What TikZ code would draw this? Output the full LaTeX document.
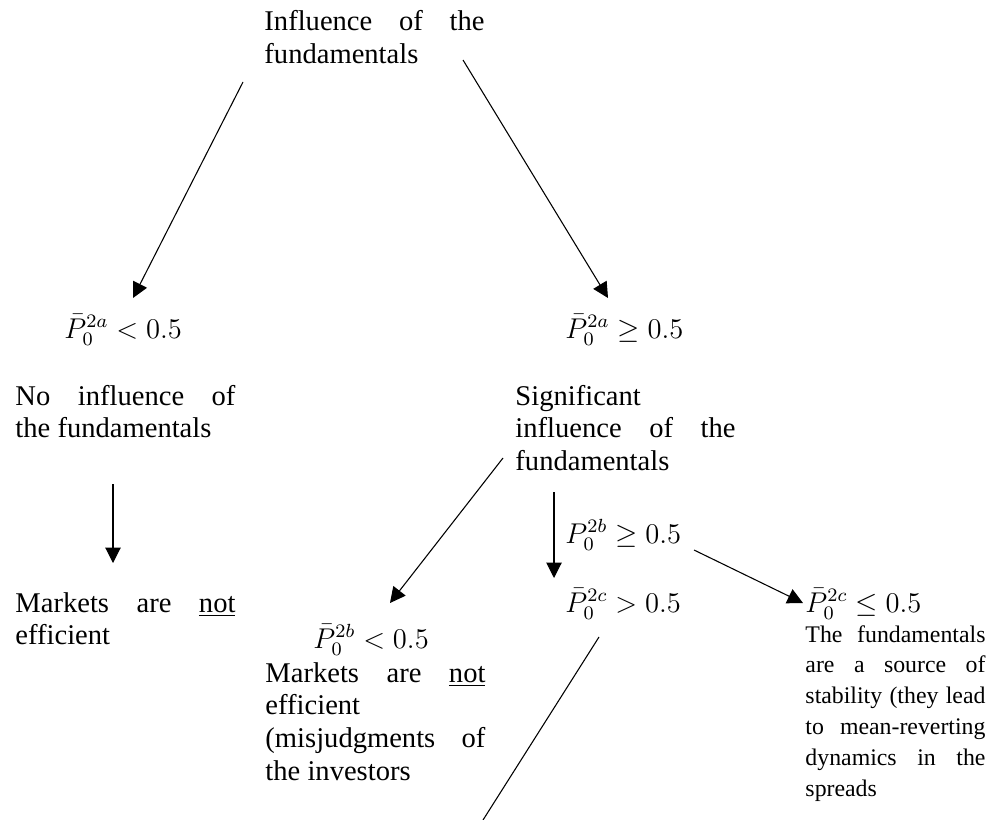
\documentclass[tikz,border=0pt]{standalone}
\usepackage{fontspec}
\setmainfont{Liberation Serif}
\usetikzlibrary{arrows.meta}
\hyphenpenalty=10000
\tolerance=10000

\begin{document}
\begin{tikzpicture}[x=0.42pt,y=-0.42pt,
    caja/.style={anchor=base west, inner sep=0pt, text width=#1, align=justify,
      font=\fontsize{12}{13.8}\selectfont},
    formula/.style={anchor=base west, inner sep=0pt, font=\fontsize{12}{13.8}\selectfont},
    flecha/.style={-{Triangle[length=6.5pt,width=6.5pt]}, line width=0.45pt}]

  \useasboundingbox (0,0) rectangle (998,820);

  % Cajas de texto
  \node[caja=92.4pt] (inicio) at (264,31) {Influence of the\linebreak fundamentals};
  \node[caja=92.4pt] (noinf) at (15,405) {No influence of\linebreak the fundamentals};
  \node[caja=92.4pt] (sig) at (515,405) {Significant\linebreak influence of the\linebreak fundamentals};
  \node[caja=92.4pt] (noefiA) at (15,612) {Markets are \underline{not}\linebreak efficient};
  \node[caja=92.4pt] (noefiB) at (265,682) {Markets are \underline{not}\linebreak efficient\linebreak (misjudgments of\linebreak the investors};
  \node[caja=75.6pt, font=\fontsize{10}{13}\selectfont] (estab) at (805,642)
    {The fundamentals\linebreak are a source of\linebreak stability (they lead\linebreak to mean-reverting\linebreak dynamics in the\linebreak spreads};

  % Condiciones
  \node[formula] (pa1) at (64,338) {$\bar{P}_0^{2a} < 0.5$};
  \node[formula] (pa2) at (565,338) {$\bar{P}_0^{2a} \geq 0.5$};
  \node[formula] (pb2) at (565,543) {$P_0^{2b} \geq 0.5$};
  \node[formula] (pc1) at (565,612) {$\bar{P}_0^{2c} > 0.5$};
  \node[formula] (pc2) at (805,612) {$\bar{P}_0^{2c} \leq 0.5$};
  \node[formula] (pb1) at (313,648) {$\bar{P}_0^{2b} < 0.5$};

  % Extremos de las flechas
  \coordinate (a1) at (243,82);  \coordinate (b1) at (133,298);
  \coordinate (a2) at (463,60);  \coordinate (b2) at (608,298);
  \coordinate (a3) at (113,484); \coordinate (b3) at (113,563);
  \coordinate (a4) at (503,458); \coordinate (b4) at (390,603);
  \coordinate (a5) at (554,492); \coordinate (b5) at (554,578);
  \coordinate (a6) at (694,550); \coordinate (b6) at (803,603);
  \coordinate (a7) at (599,637); \coordinate (b7) at (483,820);

  % Flechas
  \draw[flecha] (a1) -- (b1);
  \draw[flecha] (a2) -- (b2);
  \draw[flecha] (a3) -- (b3);
  \draw[flecha] (a4) -- (b4);
  \draw[flecha] (a5) -- (b5);
  \draw[flecha] (a6) -- (b6);
  \draw[line width=0.45pt] (a7) -- (b7);

\end{tikzpicture}
\end{document}
